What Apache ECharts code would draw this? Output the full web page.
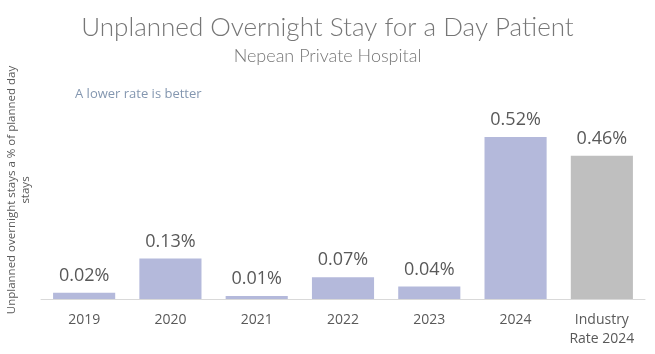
<!DOCTYPE html>
<html>
<head>
<meta charset="utf-8">
<script src="https://cdn.jsdelivr.net/npm/echarts@6/dist/echarts.min.js"></script>
<style>
  html, body { margin: 0; padding: 0; background: #fff; }
  #chart { width: 655px; height: 354px; }
</style>
</head>
<body>
<div id="chart"></div>
<script>
var categories = ['2019', '2020', '2021', '2022', '2023', '2024', 'Industry\nRate 2024'];
var rates = [0.02, 0.13, 0.01, 0.07, 0.04, 0.52, 0.46];
var barColors = ['#b4b9db', '#b4b9db', '#b4b9db', '#b4b9db', '#b4b9db', '#b4b9db', '#bfbfbf'];

var chart = echarts.init(document.getElementById('chart'));

var seriesData = [];
for (var i = 0; i < rates.length; i++) {
  seriesData.push({ value: rates[i], itemStyle: { color: barColors[i] } });
}

var option = {
  animation: false,
  title: [{
    text: 'Unplanned Overnight Stay for a Day Patient',
    left: 'center',
    top: 10,
    textStyle: { fontFamily: 'Lato', fontWeight: 300, fontSize: 26, color: '#767676' }
  }, {
    text: 'Nepean Private Hospital',
    left: 'center',
    top: 42,
    textStyle: { fontFamily: 'Lato', fontWeight: 300, fontSize: 18, color: '#767676' }
  }, {
    text: 'A lower rate is better',
    left: 75,
    top: 88,
    padding: 0,
    textStyle: { fontFamily: 'Open Sans', fontWeight: 'normal', fontSize: 13, color: '#8497b0' }
  }],
  graphic: [{
    type: 'text',
    x: 19,
    y: 190,
    rotation: Math.PI / 2,
    style: {
      text: 'Unplanned overnight stays a % of planned day\nstays',
      fill: '#595959',
      font: '11.5px "Open Sans"',
      lineHeight: 14,
      align: 'center',
      verticalAlign: 'middle'
    }
  }],
  grid: { left: 41, right: 10, top: 112, bottom: 55 },
  xAxis: {
    type: 'category',
    data: categories,
    axisLine: { lineStyle: { color: '#d9d9d9', width: 1 } },
    axisTick: { show: false },
    axisLabel: { color: '#595959', fontFamily: 'Open Sans', fontSize: 14, margin: 12, lineHeight: 19 }
  },
  yAxis: {
    type: 'value',
    min: 0,
    max: 0.6,
    show: false
  },
  series: [{
    type: 'bar',
    data: seriesData,
    barWidth: '72%',
    label: {
      show: true,
      position: 'top',
      distance: 8,
      color: '#595959',
      fontFamily: 'Open Sans',
      fontSize: 18,
      formatter: function (p) { return p.value.toFixed(2) + '%'; }
    }
  }]
};

chart.setOption(option);
</script>
</body>
</html>
